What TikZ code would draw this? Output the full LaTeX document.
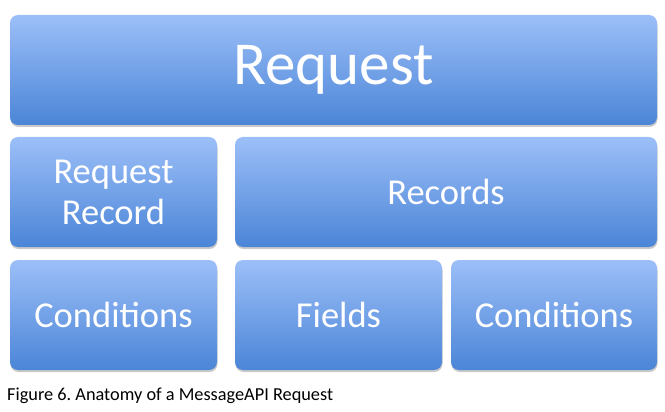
\documentclass[tikz,border=0pt]{standalone}
\usepackage{fontspec}
\setmainfont{Carlito}
\usetikzlibrary{shadows}
\definecolor{boxtop}{HTML}{9CBFF8}
\definecolor{boxbot}{HTML}{4B85D7}
\tikzset{
  box/.style={rounded corners=8pt, top color=boxtop, bottom color=boxbot, draw=none,
    text=white, align=center, anchor=north west, inner sep=0pt, outer sep=0pt,
    drop shadow={shadow xshift=0.5pt, shadow yshift=-2pt, opacity=0.35, fill=black!60}},
  big/.style={font=\fontsize{61}{61}\selectfont},
  mid/.style={font=\fontsize{36.5}{41}\selectfont},
}
\frenchspacing
\begin{document}
\begin{tikzpicture}[x=1pt,y=-1pt]
\useasboundingbox (0,0) rectangle (665,412);
\node[box, big, minimum width=647pt, minimum height=110pt] (req) at (10,15) {Request};
\node[box, mid, minimum width=207pt, minimum height=110pt] (rr) at (10,137) {Request\\Record};
\node[box, mid, minimum width=422pt, minimum height=110pt] (recs) at (235,137) {Records};
\node[box, mid, minimum width=207pt, minimum height=110pt] (c1) at (10,260) {Conditions};
\node[box, mid, minimum width=207pt, minimum height=110pt] (fields) at (235,260) {Fields};
\node[box, mid, minimum width=206pt, minimum height=110pt] (c2) at (451,260) {Conditions};
\node[anchor=base west, inner sep=0pt, font=\fontsize{18.3}{20}\selectfont] (cap) at (7,400) {Figure 6. Anatomy of a MessageAPI Request};
\end{tikzpicture}
\end{document}
